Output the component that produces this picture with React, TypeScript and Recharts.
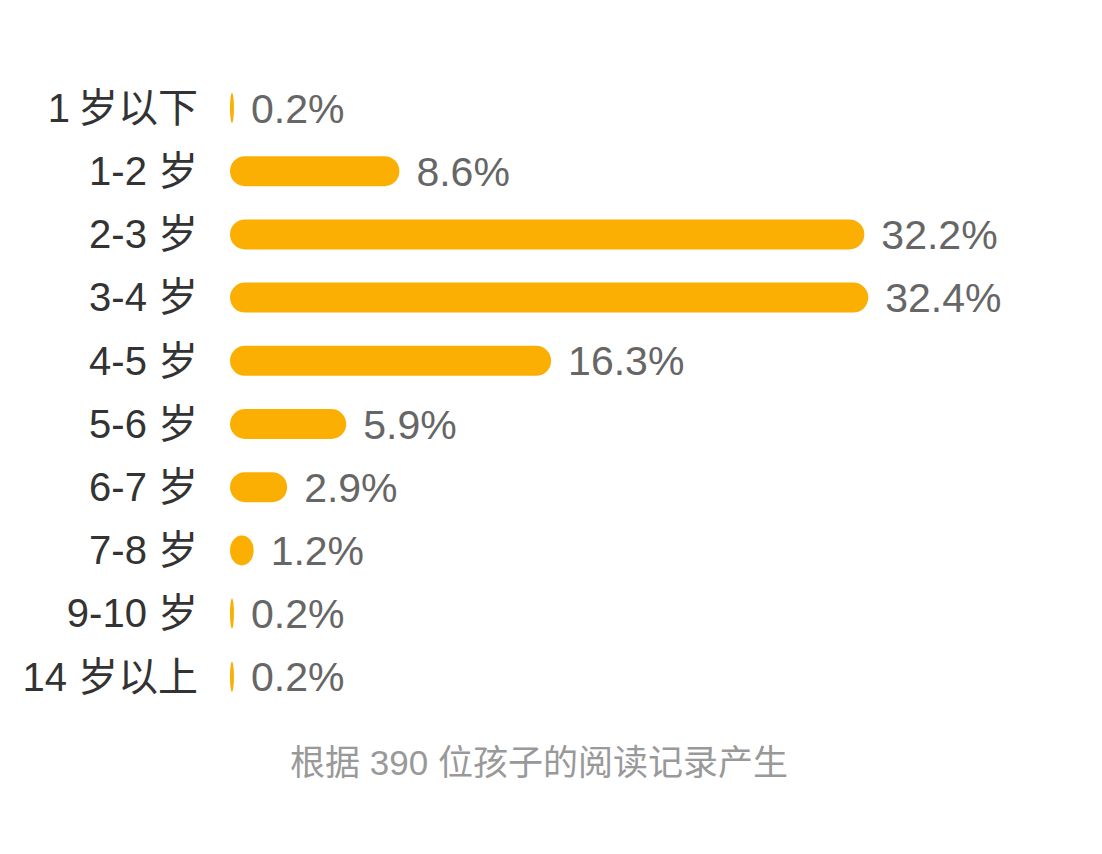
import { BarChart, Bar, XAxis, YAxis, LabelList } from "recharts"

const ageGroups = [
    "1\u2009岁以下",
    "1-2 岁",
    "2-3 岁",
    "3-4 岁",
    "4-5 岁",
    "5-6 岁",
    "6-7 岁",
    "7-8 岁",
    "9-10 岁",
    "14 岁以上",
]
const shares = [0.2, 8.6, 32.2, 32.4, 16.3, 5.9, 2.9, 1.2, 0.2, 0.2]
const caption = "根据 390 位孩子的阅读记录产生"

const FONT = '"Liberation Sans", "Noto Sans CJK SC", sans-serif'
const BAR_COLOR = "#fbaf03"

const chartData = ageGroups.map((name, i) => ({ name, value: shares[i] }))

// rect with rx/ry so very short bars become ellipses like the original
const PillBar = (props: any) => {
    const { x, y, width, height, fill } = props
    if (!width || width <= 0) return null
    return <rect x={x} y={y} width={width} height={height} rx={15} ry={15} fill={fill} />
}

const App = () => {
    return (
        <div style={{ position: "relative", width: 1086, height: 838, fontFamily: FONT }}>
            <BarChart
                width={1086}
                height={838}
                data={chartData}
                layout="vertical"
                margin={{ top: 68, right: 76, bottom: 138, left: 0 }}
            >
                <XAxis type="number" domain={[0, 40]} hide />
                <YAxis
                    type="category"
                    dataKey="name"
                    width={222}
                    axisLine={false}
                    tickLine={false}
                    tickSize={0}
                    tickMargin={32}
                    interval={0}
                    tick={{ fill: "#333333", fontSize: 40, fontFamily: FONT }}
                />
                <Bar
                    dataKey="value"
                    fill={BAR_COLOR}
                    barSize={30}
                    shape={PillBar}
                    isAnimationActive={false}
                >
                    <LabelList
                        dataKey="value"
                        position="right"
                        offset={17}
                        fill="#666666"
                        fontSize={41}
                        fontFamily={FONT}
                        formatter={(v: any) => `${v}%`}
                    />
                </Bar>
            </BarChart>
            <div
                style={{
                    position: "absolute",
                    left: 0,
                    top: 735,
                    width: 1062,
                    textAlign: "center",
                    fontSize: 35,
                    lineHeight: "40px",
                    color: "#999999",
                }}
            >
                {caption}
            </div>
        </div>
    )
}

export default App
